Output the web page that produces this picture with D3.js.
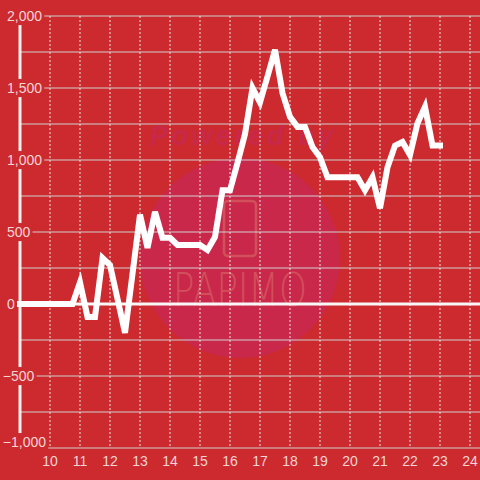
<!DOCTYPE html>
<html>
<head>
<meta charset="utf-8">
<script src="https://cdn.jsdelivr.net/npm/d3@7"></script>
<style>
  html, body { margin: 0; padding: 0; background: #cc2a2e; }
  svg { display: block; font-family: "Liberation Sans", Arial, sans-serif; }
</style>
</head>
<body>
<div id="chart"></div>
<script>
// time of day (hours) and value
const hours = [9, 10.75, 11, 11.25, 11.5, 11.75, 12, 12.25, 12.5, 12.75, 13, 13.25, 13.5, 13.75,
  14, 14.25, 14.5, 14.75, 15, 15.25, 15.5, 15.75, 16, 16.25, 16.5, 16.75, 17, 17.25, 17.5, 17.75,
  18, 18.25, 18.5, 18.75, 19, 19.25, 19.5, 19.75, 20, 20.25, 20.5, 20.75, 21, 21.25, 21.5, 21.75,
  22, 22.25, 22.5, 22.75, 23];
const values = [0, 0, 150, -90, -90, 320, 270, 35, -200, 210, 620, 390, 640, 460,
  460, 410, 410, 410, 410, 375, 465, 790, 790, 980, 1180, 1500, 1400, 1580, 1765, 1465,
  1300, 1230, 1230, 1090, 1020, 880, 880, 880, 880, 880, 790, 880, 665, 950, 1100, 1125,
  1035, 1255, 1370, 1100, 1100];

const xTicks = [10, 11, 12, 13, 14, 15, 16, 17, 18, 19, 20, 21, 22, 23, 24];
const yGrid = [-1000, -750, -500, -250, 0, 250, 500, 750, 1000, 1250, 1500, 1750, 2000];
const yLabels = [-1000, -500, 0, 500, 1000, 1500, 2000];

const W = 480, H = 480;
const bg = '#cc2a2e';
const labelColor = '#f5d4d5';

const svg = d3.select('#chart').append('svg')
  .attr('width', W)
  .attr('height', H);

svg.append('rect').attr('width', W).attr('height', H).attr('fill', bg);

const x = d3.scaleLinear().domain([9, 24 + 1 / 3]).range([20, 480]);
const y = d3.scaleLinear().domain([-1000, 2000]).range([448, 16]);

// watermark
const wm = svg.append('g');
wm.append('circle').attr('cx', 240).attr('cy', 258).attr('r', 100).attr('fill', '#c9284a');
wm.append('text')
  .attr('x', 150).attr('y', 145)
  .attr('textLength', 183)
  .attr('font-size', 27).attr('font-weight', 'bold').attr('font-style', 'italic')
  .attr('fill', '#c8284a')
  .text('Powered by');
wm.append('rect')
  .attr('x', 224).attr('y', 201).attr('width', 32).attr('height', 55).attr('rx', 4)
  .attr('fill', 'none').attr('stroke', '#d24f5c').attr('stroke-width', 2.5);
wm.append('text')
  .attr('x', 173).attr('y', 306)
  .attr('textLength', 134)
  .attr('lengthAdjust', 'spacingAndGlyphs')
  .attr('font-family', 'DejaVu Sans, sans-serif')
  .attr('font-weight', 200)
  .attr('font-size', 46)
  .attr('fill', '#d24f5c')
  .text('PAPIMO');

// horizontal grid
svg.append('g').selectAll('line')
  .data(yGrid.filter(d => d !== 0))
  .join('line')
  .attr('x1', 20).attr('x2', W)
  .attr('y1', d => y(d)).attr('y2', d => y(d))
  .attr('stroke', '#cfcfcf').attr('stroke-width', 1.2);

// vertical dotted grid
svg.append('g').selectAll('line')
  .data(xTicks)
  .join('line')
  .attr('x1', d => x(d)).attr('x2', d => x(d))
  .attr('y1', y(2000)).attr('y2', y(-1000))
  .attr('stroke', '#e6e6e6').attr('stroke-width', 1)
  .attr('stroke-dasharray', '2,2');

// y axis line
svg.append('line')
  .attr('x1', x(9)).attr('x2', x(9))
  .attr('y1', y(2000)).attr('y2', y(-1000))
  .attr('stroke', '#f2f2f2').attr('stroke-width', 3);

// zero line
svg.append('line')
  .attr('x1', 16).attr('x2', W)
  .attr('y1', y(0)).attr('y2', y(0))
  .attr('stroke', '#f7f7f7').attr('stroke-width', 3);

// data line
const line = d3.line()
  .x((d, i) => x(hours[i]))
  .y(d => y(d));

svg.append('path')
  .datum(values)
  .attr('d', line)
  .attr('fill', 'none')
  .attr('stroke', '#ffffff')
  .attr('stroke-width', 6)
  .attr('stroke-linejoin', 'miter')
  .attr('stroke-linecap', 'square');

// y labels with background boxes
const fmt = d3.format(',');
const yAxisG = svg.append('g').attr('font-size', 14);
const hyph = yAxisG.append('text').text('-');
const hyphW = hyph.node().getComputedTextLength();
hyph.remove();

yLabels.forEach(v => {
  const g = yAxisG.append('g');
  const ty = v === -1000 ? y(v) - 6 : y(v);
  const t = g.append('text')
    .attr('x', v < 0 ? 7 - hyphW + 0.5 : 7)
    .attr('y', ty)
    .attr('dy', '0.36em')
    .attr('fill', labelColor)
    .text(fmt(v));
  const b = t.node().getBBox();
  g.insert('rect', 'text')
    .attr('x', b.x - 2).attr('y', b.y - 1)
    .attr('width', b.width + 4).attr('height', b.height + 2)
    .attr('fill', bg);
});

// x labels
svg.append('g').attr('font-size', 14).selectAll('text')
  .data(xTicks)
  .join('text')
  .attr('x', d => x(d))
  .attr('y', 466)
  .attr('text-anchor', 'middle')
  .attr('fill', labelColor)
  .text(d => d);
</script>
</body>
</html>
